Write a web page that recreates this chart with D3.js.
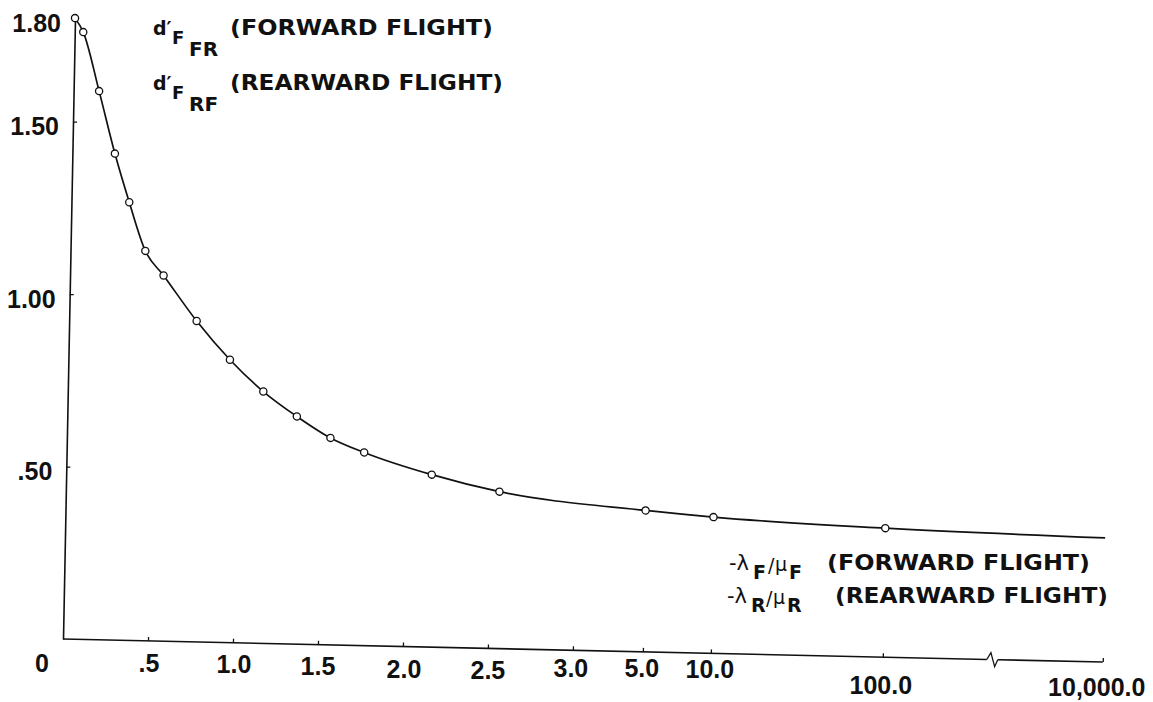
<!DOCTYPE html>
<html>
<head>
<meta charset="utf-8">
<script src="https://cdn.jsdelivr.net/npm/d3@7"></script>
<style>
  html, body { margin: 0; padding: 0; background: #fff; }
  svg { display: block; }
  .num { font-family: "Liberation Sans", Arial, sans-serif; font-weight: bold; font-size: 25px; fill: #111; }
  .leg { font-family: "DejaVu Sans", sans-serif; font-weight: bold; fill: #111; }
  .greek { font-family: "DejaVu Sans", sans-serif; font-weight: normal; fill: #111; }
</style>
</head>
<body>
<svg id="chart" width="1153" height="702"></svg>
<script>
// Flapping-derivative ratio d' versus the inflow / advance ratio.
const ratio  = [0, 0.05, 0.15, 0.25, 0.34, 0.44, 0.55, 0.75, 0.95, 1.15, 1.35, 1.55, 1.75, 2.15, 2.55, 5, 10, 100];
const dPrime = [1.80, 1.76, 1.59, 1.41, 1.27, 1.13, 1.06, 0.93, 0.82, 0.73, 0.66, 0.60, 0.56, 0.50, 0.455, 0.41, 0.395, 0.374];
// curve runs on to the end of the axis without a marker
const tailRatio = 10000;
const tailD = 0.36;

const xTickValues = [0, 0.5, 1, 1.5, 2, 2.5, 3, 5, 10, 100, 10000];
const xTickLabels = ["0", ".5", "1.0", "1.5", "2.0", "2.5", "3.0", "5.0", "10.0", "100.0", "10,000.0"];
const yTickValues = [0.5, 1.0, 1.5, 1.8];
const yTickLabels = [".50", "1.00", "1.50", "1.80"];

// ---- layout ----
const origin = [63, 639];
const alpha = 1.27 * Math.PI / 180;   // tilt of the horizontal axis
const beta  = 1.11 * Math.PI / 180;   // tilt of the vertical axis
const xLabelDrop = [33, 31, 30, 30, 31, 31, 27, 25, 25, 37, 34];
const xLabelShift = [-21, 1, 1, 0, 1, 0, -2, -1, -1, -2, -6];
const breakAt = 930;

const svg = d3.select("#chart");

// piecewise scale: linear to 3.0, then compressed decades
const x = d3.scaleLinear()
  .domain([0, 3, 5, 10, 100, 10000])
  .range([0, 510, 580, 648, 820, 1040]);
const y = d3.scaleLinear().domain([0, 1.8]).range([0, -621]);

const ca = Math.cos(alpha), sa = Math.sin(alpha), cb = Math.cos(beta), sb = Math.sin(beta);
function toScreen(lx, ly) {
  return [origin[0] + ca * lx - sb * ly, origin[1] + sa * lx + cb * ly];
}

const plot = svg.append("g")
  .attr("transform", `translate(${origin[0]},${origin[1]}) matrix(${ca},${sa},${-sb},${cb},0,0)`);

// x axis ticks (pointing up), axis line drawn separately to show the break
const xAxis = d3.axisBottom(x).tickValues(xTickValues.slice(1)).tickSize(-4).tickFormat("");
const gx = plot.append("g").call(xAxis);
gx.select(".domain").remove();
gx.selectAll(".tick line").attr("stroke", "#111").attr("stroke-width", 1.3);

function axisLine(sel) { return sel.attr("stroke", "#111").attr("stroke-width", 1.6).attr("fill", "none"); }

axisLine(plot.append("line")).attr("x1", 0).attr("y1", 0).attr("x2", breakAt - 6).attr("y2", 0);
axisLine(plot.append("path")).attr("stroke-width", 1.3)
  .attr("d", `M${breakAt - 6},0 L${breakAt - 2},-7 L${breakAt + 2},7 L${breakAt + 5},0`);
axisLine(plot.append("line")).attr("x1", breakAt + 5).attr("y1", 0).attr("x2", x(10000)).attr("y2", 0);

// y axis with inward ticks
const yAxis = d3.axisLeft(y).tickValues([0.5, 1.0, 1.5]).tickSize(-4).tickSizeOuter(0).tickFormat("");
const gy = plot.append("g").call(yAxis);
gy.select(".domain").attr("stroke", "#111").attr("stroke-width", 1.6);
gy.selectAll(".tick line").attr("stroke", "#111").attr("stroke-width", 1.3);

// curve
const pts = ratio.map((r, i) => [x(r), y(dPrime[i])]);
pts.push([x(tailRatio), y(tailD)]);
plot.append("path")
  .attr("d", d3.line().curve(d3.curveMonotoneX)(pts))
  .attr("fill", "none").attr("stroke", "#111").attr("stroke-width", 1.7);

plot.selectAll("circle.pt")
  .data(ratio.map((r, i) => ({ r, d: dPrime[i] })))
  .join("circle")
  .attr("class", "pt")
  .attr("cx", d => x(d.r)).attr("cy", d => y(d.d))
  .attr("r", 3.6)
  .attr("fill", "#fff").attr("stroke", "#111").attr("stroke-width", 1.3);

// tick labels, set level on the page
xTickValues.forEach((v, i) => {
  const [sx, sy] = toScreen(x(v), 0);
  svg.append("text").attr("class", "num")
    .attr("x", sx + xLabelShift[i])
    .attr("y", sy + xLabelDrop[i])
    .attr("text-anchor", "middle")
    .text(xTickLabels[i]);
});
yTickValues.forEach((v, i) => {
  const [sx, sy] = toScreen(0, y(v));
  svg.append("text").attr("class", "num")
    .attr("x", sx - 14)
    .attr("y", sy + 13.5)
    .attr("text-anchor", "end")
    .text(yTickLabels[i]);
});

// ordinate legend
function ordinateLabel(top, sub, word, wordLen) {
  svg.append("text").attr("class", "leg").attr("x", 153).attr("y", top).attr("font-size", 19).text("d′");
  svg.append("text").attr("class", "leg").attr("x", 172).attr("y", top + 9).attr("font-size", 18).text("F");
  svg.append("text").attr("class", "leg").attr("x", 189).attr("y", top + 21).attr("font-size", 20).text(sub);
  svg.append("text").attr("class", "leg").attr("x", 230).attr("y", top).attr("font-size", 22)
    .attr("textLength", wordLen).attr("lengthAdjust", "spacingAndGlyphs").text(word);
}
ordinateLabel(35, "FR", "(FORWARD FLIGHT)", 263);
ordinateLabel(90, "RF", "(REARWARD FLIGHT)", 273);

// abscissa legend
function abscissaLabel(base, left, sub, word, wordX, wordLen) {
  svg.append("text").attr("class", "greek").attr("x", left).attr("y", base).attr("font-size", 21).text("-λ");
  svg.append("text").attr("class", "leg").attr("x", left + 24).attr("y", base + 9).attr("font-size", 19).text(sub);
  svg.append("text").attr("class", "greek").attr("x", left + 39).attr("y", base + 2).attr("font-size", 19).text("/");
  svg.append("text").attr("class", "greek").attr("x", left + 46).attr("y", base + 1).attr("font-size", 19).text("μ");
  svg.append("text").attr("class", "leg").attr("x", left + 60).attr("y", base + 9).attr("font-size", 19).text(sub);
  svg.append("text").attr("class", "leg").attr("x", wordX).attr("y", base).attr("font-size", 22)
    .attr("textLength", wordLen).attr("lengthAdjust", "spacingAndGlyphs").text(word);
}
abscissaLabel(570, 729, "F", "(FORWARD FLIGHT)", 827, 263);
abscissaLabel(603, 727, "R", "(REARWARD FLIGHT)", 835, 273);
</script>
</body>
</html>
